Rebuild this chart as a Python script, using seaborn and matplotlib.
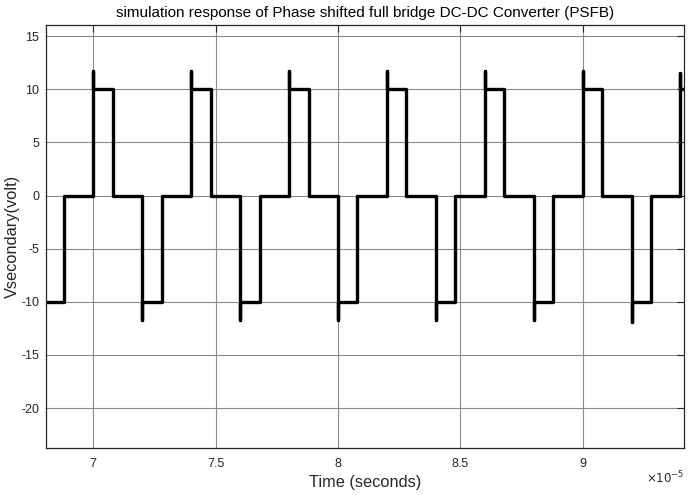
import matplotlib
matplotlib.use("Agg")
import matplotlib.pyplot as plt
from matplotlib.ticker import FuncFormatter
import seaborn as sns
import numpy as np

# switching instants (units of 1e-5 s), level after the edge, and the peak reached at the edge
edge_t = [6.807, 6.88, 7.00, 7.08, 7.20, 7.28, 7.40, 7.48, 7.60, 7.68,
          7.80, 7.88, 8.00, 8.08, 8.20, 8.28, 8.40, 8.48, 8.60, 8.68,
          8.80, 8.88, 9.00, 9.08, 9.20, 9.28, 9.40]
edge_level = [-10, 0, 10, 0, -10, 0, 10, 0, -10, 0,
              10, 0, -10, 0, 10, 0, -10, 0, 10, 0,
              -10, 0, 10, 0, -10, 0, 10]
edge_peak = [-10, 0, 11.7, 0, -11.7, 0, 11.7, 0, -11.7, 0,
             11.7, 0, -11.7, 0, 11.7, 0, -11.7, 0, 11.7, 0,
             -11.7, 0, 11.7, 0, -11.85, 0, 11.5]
t_end = 9.414

xticks = [7, 7.5, 8, 8.5, 9]
yticks = [-20, -15, -10, -5, 0, 5, 10, 15]

# build the sampled waveform from the edges
t_pts, v_pts = [edge_t[0]], [edge_level[0]]
for i in range(1, len(edge_t)):
    t_pts += [edge_t[i], edge_t[i], edge_t[i]]
    v_pts += [edge_level[i - 1], edge_peak[i], edge_level[i]]
t_pts.append(t_end)
v_pts.append(edge_level[-1])
t_sec = np.array(t_pts) * 1e-5
v = np.array(v_pts)

sns.set_style("white")
plt.rcParams['font.family'] = ['Liberation Sans', 'DejaVu Sans']
plt.rcParams['axes.unicode_minus'] = False

fig = plt.figure(figsize=(7, 4.95), dpi=100)
ax = fig.add_axes([0.0657, 0.095, 0.9113, 0.8545])

sns.lineplot(x=t_sec, y=v, sort=False, estimator=None, color='black',
             linewidth=2.4, ax=ax)

ax.set_xlim(6.807e-5, t_end * 1e-5)
ax.set_ylim(-23.75, 16.05)
ax.set_xticks([x * 1e-5 for x in xticks])
ax.set_yticks(yticks)
ax.xaxis.set_major_formatter(FuncFormatter(lambda x, p: '%g' % round(x / 1e-5, 3)))
ax.grid(True, color='#8a8a8a', linewidth=0.8)
ax.set_axisbelow(True)
ax.tick_params(direction='in', length=5, width=0.8, top=True, right=True,
               labelsize=9, colors='#262626', pad=5)
ax.tick_params(axis='x', pad=7)
for s in ax.spines.values():
    s.set_color('#262626')
    s.set_linewidth(0.9)

ax.set_title('simulation response of Phase shifted full bridge DC-DC Converter (PSFB)',
             fontsize=11, color='black', pad=6)
ax.set_xlabel('Time (seconds)', fontsize=11.8, labelpad=4)
ax.set_ylabel('Vsecondary(volt)', fontsize=11.8, labelpad=1)
ax.text(1.0, -0.07, r'$\times10^{-5}$', transform=ax.transAxes, ha='right', va='center',
        fontsize=8.5, color='#262626')

fig.savefig('out.png', dpi=100)
